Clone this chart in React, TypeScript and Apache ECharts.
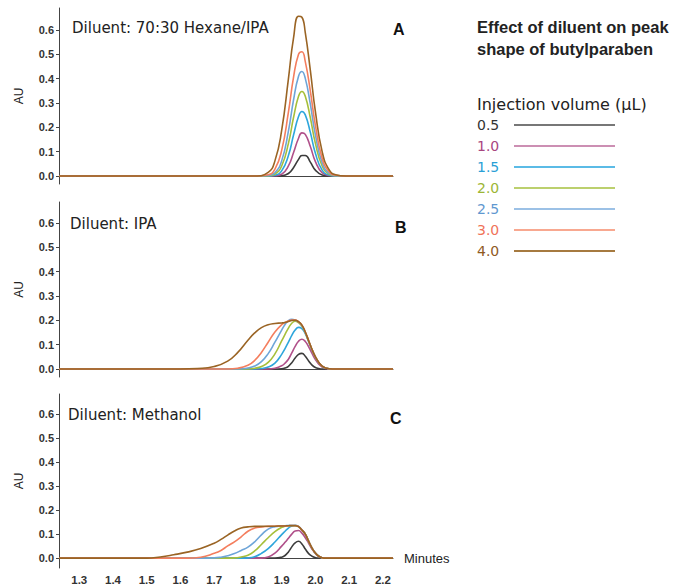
import React, { useEffect, useRef } from "react";
import * as echarts from "echarts";

// ---------- data ----------
const VOLUMES = ["0.5", "1.0", "1.5", "2.0", "2.5", "3.0", "4.0"];
const LINE_COLORS = ["#3c3c3c", "#b0508a", "#2ea6dc", "#a6bf3a", "#6ea5d8", "#f47e5e", "#9a6424"];
const LEGEND_LINE_COLORS = ["#777777", "#cc8fb3", "#5bbbe6", "#bcd06e", "#9cc1e6", "#f8a890", "#a67a40"];
const TEXT_COLORS = ["#333333", "#a8467f", "#2a9fd6", "#9cb635", "#5f98d0", "#f0735a", "#8f5a1e"];
const X_TICKS = [1.3, 1.4, 1.5, 1.6, 1.7, 1.8, 1.9, 2.0, 2.1, 2.2];
const Y_TICKS = [0, 0.1, 0.2, 0.3, 0.4, 0.5, 0.6];
const PANEL_TITLES = ["Diluent: 70:30 Hexane/IPA", "Diluent: IPA", "Diluent: Methanol"];
const PANEL_LETTERS = ["A", "B", "C"];
const CHART_TITLE = ["Effect of diluent on peak", "shape of butylparaben"];
const LEGEND_TITLE = "Injection volume (\u00b5L)";

// Panel A: 70:30 Hexane/IPA
const TIME_A = [1.24, 1.82, 1.86, 1.88, 1.9, 1.92, 1.935, 1.95, 1.96, 1.97, 1.985, 2.0, 2.02, 2.04, 2.06, 2.09, 2.23];
const A_05 = [0, 0, 0, 0, 0.001, 0.01, 0.034, 0.068, 0.084, 0.084, 0.057, 0.024, 0.004, 0, 0, 0, 0];
const A_10 = [0, 0, 0, 0.001, 0.007, 0.041, 0.095, 0.155, 0.177, 0.171, 0.121, 0.059, 0.013, 0.002, 0, 0, 0];
const A_15 = [0, 0, 0, 0.003, 0.021, 0.084, 0.167, 0.244, 0.265, 0.251, 0.179, 0.093, 0.024, 0.004, 0, 0, 0];
const A_20 = [0, 0, 0.001, 0.008, 0.041, 0.134, 0.239, 0.327, 0.347, 0.327, 0.239, 0.134, 0.041, 0.008, 0.001, 0, 0];
const A_25 = [0, 0, 0.002, 0.013, 0.062, 0.184, 0.311, 0.41, 0.429, 0.401, 0.295, 0.169, 0.054, 0.011, 0.001, 0, 0];
const A_30 = [0, 0, 0.005, 0.028, 0.105, 0.262, 0.404, 0.5, 0.51, 0.47, 0.349, 0.208, 0.073, 0.018, 0.003, 0, 0];
const A_40 = [0, 0, 0.015, 0.062, 0.187, 0.399, 0.565, 0.656, 0.652, 0.589, 0.434, 0.264, 0.1, 0.027, 0.005, 0, 0];

// Panel B: IPA
const TIME_B = [1.24, 1.6, 1.65, 1.7, 1.74, 1.77, 1.8, 1.82, 1.84, 1.86, 1.88, 1.9, 1.91, 1.92, 1.93, 1.94, 1.95, 1.96, 1.97, 1.98, 1.99, 2.0, 2.01, 2.02, 2.03, 2.05, 2.1, 2.23];
const B_05 = [0, 0, 0, 0, 0, 0, 0, 0, 0, 0, 0, 0.001, 0.004, 0.011, 0.026, 0.045, 0.06, 0.064, 0.052, 0.033, 0.016, 0.006, 0.002, 0, 0, 0, 0, 0];
const B_10 = [0, 0, 0, 0, 0, 0, 0, 0, 0, 0, 0.003, 0.013, 0.024, 0.04, 0.066, 0.093, 0.114, 0.122, 0.113, 0.091, 0.064, 0.039, 0.02, 0.008, 0.002, 0, 0, 0];
const B_15 = [0, 0, 0, 0, 0, 0, 0, 0, 0.002, 0.008, 0.024, 0.06, 0.084, 0.11, 0.138, 0.16, 0.171, 0.166, 0.145, 0.112, 0.078, 0.049, 0.026, 0.012, 0.004, 0, 0, 0];
const B_20 = [0, 0, 0, 0, 0, 0, 0, 0.003, 0.01, 0.027, 0.062, 0.115, 0.142, 0.168, 0.188, 0.196, 0.19, 0.176, 0.149, 0.114, 0.079, 0.049, 0.026, 0.012, 0.004, 0, 0, 0];
const B_25 = [0, 0, 0, 0, 0, 0, 0.004, 0.012, 0.03, 0.063, 0.11, 0.16, 0.183, 0.199, 0.204, 0.201, 0.193, 0.178, 0.15, 0.115, 0.079, 0.049, 0.026, 0.012, 0.004, 0, 0, 0];
const B_30 = [0, 0, 0, 0, 0, 0.003, 0.015, 0.035, 0.068, 0.11, 0.152, 0.182, 0.191, 0.197, 0.201, 0.201, 0.194, 0.18, 0.152, 0.116, 0.08, 0.05, 0.027, 0.012, 0.004, 0, 0, 0];
const B_40 = [0, 0, 0.002, 0.01, 0.032, 0.068, 0.118, 0.148, 0.17, 0.182, 0.187, 0.189, 0.191, 0.195, 0.199, 0.2, 0.194, 0.18, 0.152, 0.116, 0.08, 0.05, 0.027, 0.012, 0.004, 0, 0, 0];

// Panel C: Methanol
const TIME_C = [1.24, 1.5, 1.54, 1.58, 1.62, 1.66, 1.7, 1.72, 1.74, 1.76, 1.78, 1.8, 1.82, 1.84, 1.86, 1.88, 1.9, 1.91, 1.92, 1.93, 1.94, 1.95, 1.96, 1.97, 1.98, 1.99, 2.0, 2.01, 2.02, 2.03, 2.05, 2.1, 2.23];
const C_05 = [0, 0, 0, 0, 0, 0, 0, 0, 0, 0, 0, 0, 0, 0, 0, 0, 0.004, 0.011, 0.026, 0.047, 0.064, 0.07, 0.059, 0.038, 0.019, 0.008, 0.002, 0, 0, 0, 0, 0, 0];
const C_10 = [0, 0, 0, 0, 0, 0, 0, 0, 0, 0, 0, 0, 0, 0, 0.005, 0.021, 0.05, 0.066, 0.083, 0.1, 0.113, 0.115, 0.104, 0.085, 0.062, 0.038, 0.019, 0.007, 0.002, 0, 0, 0, 0];
const C_15 = [0, 0, 0, 0, 0, 0, 0, 0, 0, 0, 0, 0.001, 0.006, 0.02, 0.04, 0.067, 0.098, 0.112, 0.125, 0.134, 0.136, 0.131, 0.117, 0.1, 0.07, 0.042, 0.021, 0.008, 0.002, 0, 0, 0, 0];
const C_20 = [0, 0, 0, 0, 0, 0, 0, 0, 0, 0.001, 0.005, 0.012, 0.03, 0.057, 0.085, 0.11, 0.128, 0.133, 0.135, 0.136, 0.136, 0.131, 0.117, 0.1, 0.07, 0.042, 0.021, 0.008, 0.002, 0, 0, 0, 0];
const C_25 = [0, 0, 0, 0, 0, 0, 0.001, 0.004, 0.01, 0.019, 0.032, 0.046, 0.068, 0.097, 0.121, 0.131, 0.134, 0.135, 0.136, 0.137, 0.137, 0.132, 0.118, 0.1, 0.07, 0.042, 0.021, 0.008, 0.002, 0, 0, 0, 0];
const C_30 = [0, 0, 0, 0, 0, 0.004, 0.02, 0.032, 0.051, 0.068, 0.089, 0.112, 0.125, 0.13, 0.132, 0.133, 0.134, 0.134, 0.135, 0.136, 0.136, 0.131, 0.117, 0.1, 0.07, 0.042, 0.021, 0.008, 0.002, 0, 0, 0, 0];
const C_40 = [0, 0, 0.005, 0.014, 0.025, 0.04, 0.062, 0.078, 0.096, 0.113, 0.125, 0.13, 0.132, 0.132, 0.133, 0.133, 0.134, 0.134, 0.135, 0.135, 0.135, 0.131, 0.117, 0.1, 0.07, 0.042, 0.021, 0.008, 0.002, 0, 0, 0, 0];

const PANEL_TIMES = [TIME_A, TIME_B, TIME_C];
const PANEL_VALUES = [
  [A_05, A_10, A_15, A_20, A_25, A_30, A_40],
  [B_05, B_10, B_15, B_20, B_25, B_30, B_40],
  [C_05, C_10, C_15, C_20, C_25, C_30, C_40],
];

// ---------- layout ----------
const GRIDS = [
  { top: 8, height: 176, yMin: -0.033, yMax: 0.69, titleX: 72, titleY: 28, letterX: 393, letterY: 29 },
  { top: 202, height: 175, yMin: -0.033, yMax: 0.686, titleX: 70, titleY: 224, letterX: 395, letterY: 227 },
  { top: 394, height: 175, yMin: -0.041, yMax: 0.683, titleX: 68, titleY: 415, letterX: 390, letterY: 418 },
];
const GRID_LEFT = 59;
const GRID_WIDTH = 334;
const X_MIN = 1.24;
const X_MAX = 2.23;

const AXIS_FONT = "'Liberation Sans', Arial, sans-serif";
const PANEL_FONT = "15px 'DejaVu Sans', sans-serif";

export default function App() {
  const ref = useRef<HTMLDivElement>(null);

  useEffect(() => {
    if (!ref.current) return;
    const chart = echarts.init(ref.current, undefined, { renderer: "svg" });

    const grid = GRIDS.map((g) => ({
      left: GRID_LEFT,
      top: g.top,
      width: GRID_WIDTH,
      height: g.height,
      containLabel: false,
    }));

    const xAxis = GRIDS.map((g, i) => ({
      type: "value",
      gridIndex: i,
      min: X_MIN,
      max: X_MAX,
      name: i === 2 ? "Minutes" : "",
      nameLocation: "end",
      nameGap: 11,
      nameTextStyle: { fontFamily: AXIS_FONT, fontSize: 13, color: "#222" },
      axisLine: { show: true, lineStyle: { color: "#444", width: 1 } },
      axisTick: { show: false, customValues: X_TICKS },
      splitLine: { show: false },
      axisLabel: {
        show: i === 2,
        customValues: X_TICKS,
        formatter: (v: number) => v.toFixed(1),
        fontFamily: AXIS_FONT,
        fontSize: 11.5,
        fontWeight: "bold",
        color: "#333",
        margin: 6,
      },
    }));

    const yAxis = GRIDS.map((g, i) => ({
      type: "value",
      gridIndex: i,
      min: g.yMin,
      max: g.yMax,
      name: "AU",
      nameLocation: "middle",
      nameRotate: 90,
      nameGap: 34,
      nameTextStyle: { fontFamily: AXIS_FONT, fontSize: 12, color: "#222" },
      axisLine: { show: true, lineStyle: { color: "#444", width: 1 } },
      axisTick: { show: true, length: 3, customValues: Y_TICKS, lineStyle: { color: "#444" } },
      splitLine: { show: false },
      axisLabel: {
        customValues: Y_TICKS,
        formatter: (v: number) => v.toFixed(1),
        fontFamily: AXIS_FONT,
        fontSize: 11,
        fontWeight: "bold",
        color: "#333",
        margin: 5,
      },
    }));

    const series: any[] = [];
    PANEL_VALUES.forEach((panel, pi) => {
      panel.forEach((vals, si) => {
        series.push({
          type: "line",
          name: VOLUMES[si],
          xAxisIndex: pi,
          yAxisIndex: pi,
          data: PANEL_TIMES[pi].map((t, k) => [t, vals[k]]),
          showSymbol: false,
          symbol: "none",
          smooth: 0.5,
          silent: true,
          lineStyle: { width: 1.6, color: LINE_COLORS[si] },
          itemStyle: { color: LINE_COLORS[si] },
        });
      });
    });

    const graphic: any[] = [];
    GRIDS.forEach((g, i) => {
      graphic.push({
        type: "text",
        x: g.titleX,
        y: g.titleY,
        style: { text: PANEL_TITLES[i], fill: "#222", font: PANEL_FONT, verticalAlign: "middle" },
      });
      graphic.push({
        type: "text",
        x: g.letterX,
        y: g.letterY,
        style: { text: PANEL_LETTERS[i], fill: "#111", font: "bold 16px 'Liberation Sans', Arial, sans-serif", verticalAlign: "middle" },
      });
    });
    CHART_TITLE.forEach((t, i) => {
      graphic.push({
        type: "text",
        x: 477,
        y: 27 + i * 22,
        style: { text: t, fill: "#222", font: "bold 16.5px 'Liberation Sans', Arial, sans-serif", verticalAlign: "middle" },
      });
    });
    graphic.push({
      type: "text",
      x: 477,
      y: 104,
      style: { text: LEGEND_TITLE, fill: "#222", font: "16px 'DejaVu Sans', sans-serif", verticalAlign: "middle" },
    });
    VOLUMES.forEach((v, i) => {
      const y = 125 + i * 21;
      graphic.push({
        type: "text",
        x: 477,
        y,
        style: { text: v, fill: TEXT_COLORS[i], font: "14px 'DejaVu Sans', sans-serif", verticalAlign: "middle" },
      });
      graphic.push({
        type: "line",
        shape: { x1: 514, y1: y, x2: 615, y2: y },
        style: { stroke: LEGEND_LINE_COLORS[i], lineWidth: 1.8 },
      });
    });

    chart.setOption({
      animation: false,
      backgroundColor: "#ffffff",
      grid,
      xAxis,
      yAxis,
      series,
      graphic,
    });

    return () => chart.dispose();
  }, []);

  return (
    <div
      ref={ref}
      style={{ position: "fixed", left: 0, top: 0, width: 674, height: 586, background: "#fff" }}
    />
  );
}
